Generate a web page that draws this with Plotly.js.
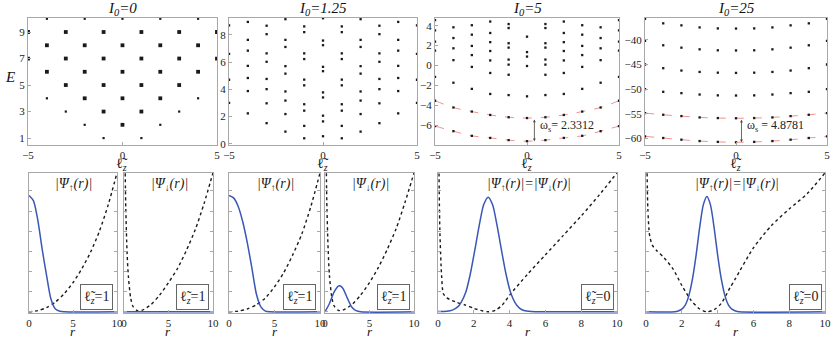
<!DOCTYPE html>
<html>
<head>
<meta charset="utf-8">
<script src="https://cdn.plot.ly/plotly-3.0.1.min.js"></script>
<style>
  html, body { margin: 0; padding: 0; background: #fff; }
  #chart { width: 831px; height: 339px; }
</style>
</head>
<body>
<div id="chart"></div>
<script>
// ---- top row: energy levels vs angular momentum ----
const lz = [-5, -4, -3, -2, -1, 0, 1, 2, 3, 4, 5];

// I0 = 0: degenerate levels (heavy marks) and single levels (light marks)
const p1BigL = [-5, -5, -4, -4, -3, -3, -3, -2, -2, -2, -1, -1, -1, -1, 0, 0, 0, 0, 1, 1, 1, 1, 2, 2, 2, 3, 3, 3, 4, 4, 5, 5];
const p1BigE = [9, 7, 8, 6, 9, 7, 5, 8, 6, 4, 9, 7, 5, 3, 8, 6, 4, 2, 9, 7, 5, 3, 8, 6, 4, 9, 7, 5, 8, 6, 9, 7];
const p1SmallL = [-4, -4, -3, -2, -2, -1, 0, 1, 2, 2, 3, 4, 4];
const p1SmallE = [10, 4, 3, 10, 2, 1, 10, 1, 10, 2, 3, 10, 4];

// I0 = 1.25: one list of levels per lz column
const p2Levels = [
  [8.7, 6.6, 4.7, 3.0],
  [8.95, 7.63, 6.84, 5.72, 4.83, 3.87, 2.23],
  [8.67, 8.05, 6.64, 6.02, 4.76, 4.01, 2.97, 1.51],
  [9.15, 7.63, 7.11, 5.70, 5.15, 3.84, 3.17, 2.18, 0.89],
  [8.62, 8.20, 6.64, 6.22, 4.71, 4.29, 2.90, 2.43, 1.31, 0.40],
  [9.22, 7.58, 7.24, 5.65, 5.33, 3.77, 3.40, 2.06, 1.64, 0.55],
  [8.62, 8.20, 6.64, 6.22, 4.71, 4.29, 2.90, 2.43, 1.31, 0.40],
  [9.15, 7.63, 7.11, 5.70, 5.15, 3.84, 3.17, 2.18, 0.89],
  [8.67, 8.05, 6.64, 6.02, 4.76, 4.01, 2.97, 1.51],
  [8.95, 7.63, 6.84, 5.72, 4.83, 3.87, 2.23],
  [8.7, 6.6, 4.7, 3.0],
];

// I0 = 5: upper levels, plus the two lowest bands (joined by dashed lines)
const p3Levels = [
  [4.56, 3.54, 2.4, 1.5, -1.15],
  [3.84, 2.76, 1.73, 0.54, -1.73],
  [4.05, 3.10, 1.97, 1.05, -0.14, -2.35],
  [4.42, 3.27, 2.35, 1.46, 0.51, -0.75, -2.86],
  [4.17, 3.77, 2.24, 1.80, 0.60, 0.09, -0.93, -2.97],
  [2.9, 1.35, 0.9, -0.05, -3.1],
  [4.17, 3.77, 2.24, 1.80, 0.60, 0.09, -0.93, -2.97],
  [4.42, 3.27, 2.35, 1.46, 0.51, -0.75, -2.86],
  [4.05, 3.10, 1.97, 1.05, -0.14, -2.35],
  [3.84, 2.76, 1.73, 0.54, -1.73],
  [4.56, 3.54, 2.4, 1.5, -1.15],
];
const p3Band1 = [-3.54, -4.22, -4.63, -4.97, -5.2, -5.28, -5.2, -4.97, -4.63, -4.22, -3.54];
const p3Band2 = [-6.09, -6.6, -7.07, -7.28, -7.5, -7.61, -7.5, -7.28, -7.07, -6.6, -6.09];

// I0 = 25
const p4Levels = [
  [-35.75, -40.2, -45.0, -50.0],
  [-36.64, -41.10, -45.75, -50.55],
  [-37.05, -41.58, -46.23, -50.82],
  [-37.47, -41.92, -46.51, -51.10],
  [-37.67, -42.12, -46.66, -51.27],
  [-37.70, -42.15, -46.71, -51.30],
  [-37.67, -42.12, -46.66, -51.27],
  [-37.47, -41.92, -46.51, -51.10],
  [-37.05, -41.58, -46.23, -50.82],
  [-36.64, -41.10, -45.75, -50.55],
  [-35.75, -40.2, -45.0, -50.0],
];
const p4Band1 = [-54.86, -55.21, -55.48, -55.75, -55.88, -55.92, -55.88, -55.75, -55.48, -55.21, -54.86];
const p4Band2 = [-59.59, -59.93, -60.27, -60.55, -60.72, -60.8, -60.72, -60.55, -60.27, -59.93, -59.59];

const topTitles = ["I<sub>0</sub>=0", "I<sub>0</sub>=1.25", "I<sub>0</sub>=5", "I<sub>0</sub>=25"];
const gapLabels = ["ω<sub>s</sub>= 2.3312", "ω<sub>s</sub> = 4.8781"];

// ---- bottom row: |Ψ(r)| (blue) and effective potential (dotted) ----
const aPsiR = [0, 0.5, 1, 1.5, 2, 2.5, 3, 3.5, 4, 10];
const aPsi  = [0.837, 0.80, 0.66, 0.45, 0.26, 0.09, 0.02, 0.004, 0, 0];
const aPotR = [0, 1, 2, 3, 4, 5, 6, 7, 8, 9, 10];
const aPot  = [0, 0.008, 0.03, 0.07, 0.13, 0.21, 0.31, 0.43, 0.58, 0.77, 1.0];

const bPsiR = [0, 10];
const bPsi  = [0, 0];
const bPotR = [0.08, 0.2, 0.35, 0.5, 0.75, 1, 1.5, 2, 3, 4, 5, 6, 7, 8, 9, 10];
const bPot  = [1.3, 0.75, 0.42, 0.25, 0.10, 0.04, 0.008, 0.01, 0.05, 0.12, 0.21, 0.31, 0.44, 0.59, 0.78, 1.0];

const cPsiR = [0, 0.5, 1, 1.5, 2, 2.5, 3, 3.5, 4, 4.5, 10];
const cPsi  = [0.837, 0.82, 0.76, 0.65, 0.50, 0.32, 0.13, 0.035, 0.005, 0, 0];
const cPotR = [0, 1, 2, 3, 4, 5, 6, 7, 8, 9, 10];
const cPot  = [0, 0.005, 0.02, 0.05, 0.10, 0.18, 0.28, 0.41, 0.56, 0.76, 1.0];

const dPsiR = [0, 0.5, 1, 1.5, 1.65, 2, 2.5, 3, 3.5, 4, 10];
const dPsi  = [0, 0.06, 0.14, 0.185, 0.187, 0.17, 0.10, 0.035, 0.008, 0, 0];
const dPotR = [0.1, 0.2, 0.35, 0.5, 0.75, 1, 1.5, 2, 3, 4, 5, 6, 7, 8, 9, 10];
const dPot  = [1.3, 0.8, 0.45, 0.26, 0.11, 0.045, 0.01, 0.012, 0.05, 0.12, 0.21, 0.32, 0.45, 0.6, 0.79, 1.0];

const ePsiR = [0, 0.5, 0.8, 1.1, 1.3, 1.55, 1.8, 2.05, 2.3, 2.55, 2.8, 3.05, 3.3, 3.55, 3.8, 4.05, 4.3, 4.55, 4.8, 5.2, 6, 10];
const ePsi  = [0.002, 0.004, 0.012, 0.035, 0.07, 0.14, 0.27, 0.44, 0.62, 0.77, 0.825, 0.77, 0.62, 0.44, 0.27, 0.14, 0.066, 0.026, 0.009, 0.002, 0, 0];
const ePotR = [0.03, 0.1, 0.2, 0.3, 0.5, 1, 1.5, 2, 2.5, 2.8, 3.2, 3.6, 4, 5, 6, 7, 8, 9, 10];
const ePot  = [1.3, 0.6, 0.26, 0.13, 0.10, 0.07, 0.05, 0.025, 0.006, 0, 0.01, 0.05, 0.12, 0.27, 0.41, 0.55, 0.69, 0.84, 1.0];

const fPsiR = [0, 1.6, 1.8, 2.0, 2.2, 2.4, 2.6, 2.8, 3.0, 3.2, 3.4, 3.6, 3.8, 4.0, 4.2, 4.4, 4.6, 4.8, 5.0, 5.2, 10];
const fPsi  = [0, 0, 0.006, 0.019, 0.05, 0.12, 0.24, 0.41, 0.61, 0.77, 0.83, 0.77, 0.61, 0.41, 0.24, 0.12, 0.05, 0.019, 0.006, 0, 0];
const fPotR = [0.03, 0.1, 0.2, 0.35, 0.6, 1, 1.5, 2, 2.5, 3, 3.4, 3.8, 4.2, 4.7, 5, 6, 7, 8, 9, 10];
const fPot  = [1.3, 0.75, 0.55, 0.48, 0.44, 0.39, 0.31, 0.19, 0.085, 0.02, 0, 0.015, 0.06, 0.175, 0.24, 0.46, 0.62, 0.74, 0.85, 1.0];

const psiLabels = [
  "|Ψ<sub>↑</sub>(r)|", "|Ψ<sub>↓</sub>(r)|", "|Ψ<sub>↑</sub>(r)|", "|Ψ<sub>↓</sub>(r)|",
  "|Ψ<sub>↑</sub>(r)|=|Ψ<sub>↓</sub>(r)|", "|Ψ<sub>↑</sub>(r)|=|Ψ<sub>↓</sub>(r)|",
];
const lzBoxLabels = ["1", "1", "1", "1", "0", "0"];

// ---- styling ----
const BLUE = "#3a57b5";
const DOT_BLACK = "#1a1a1a";
const BAND_RED = "rgba(236,110,110,0.75)";
const AXIS_GREY = "#a8a8a8";
const SERIF = "Liberation Serif, Times New Roman, serif";
const LZ = "<span style=\"font-family:DejaVu Serif\">ℓ\u0303</span><sub><i>z</i></sub>";

const TOP_Y = [0.572, 0.947];
const BOT_Y = [0.077, 0.490];
const topX = [[0.0337, 0.2611], [0.2756, 0.5018], [0.5235, 0.7449], [0.7762, 0.9952]];
const botX = [[0.0349, 0.1408], [0.1492, 0.2563], [0.2756, 0.3851], [0.3911, 0.4982], [0.5271, 0.7425], [0.7774, 0.9928]];
const topYRange = [[0.47, 10.06], [-0.1, 9.24], [-8.0, 4.78], [-61.37, -35.55]];
const topYTicks = [[1, 3, 5, 7, 9], [0, 2, 4, 6, 8], [-6, -4, -2, 0, 2, 4], [-60, -55, -50, -45, -40]];

function frame(domain, range, anchor, extra) {
  return {
    domain, range, anchor,
    showline: true, mirror: true, linecolor: AXIS_GREY, linewidth: 1,
    ticks: "inside", ticklen: 3, tickcolor: AXIS_GREY,
    showgrid: false, zeroline: false, fixedrange: true,
    ticklabeloverflow: "allow",
    tickfont: { family: SERIF, size: 11, color: "#222" },
    ...extra,
  };
}

function flatten(levels) {
  const x = [], y = [];
  levels.forEach((col, i) => col.forEach((e) => { x.push(lz[i]); y.push(e); }));
  return { x, y };
}

function dots(x, y, n, size) {
  return {
    x, y, xaxis: "x" + n, yaxis: "y" + n, type: "scatter", mode: "markers",
    marker: { color: DOT_BLACK, size, symbol: "square", line: { width: 0 } },
    hoverinfo: "skip",
  };
}

function band(y, n) {
  return {
    x: lz, y, xaxis: "x" + n, yaxis: "y" + n, type: "scatter", mode: "lines",
    line: { color: BAND_RED, width: 1, dash: "dash", shape: "spline", smoothing: 1 },
    hoverinfo: "skip",
  };
}

function curve(x, y, n, dotted) {
  return {
    x, y, xaxis: "x" + n, yaxis: "y" + n, type: "scatter", mode: "lines",
    line: dotted
      ? { color: DOT_BLACK, width: 1.4, dash: "dot", shape: "spline", smoothing: 0.7 }
      : { color: BLUE, width: 1.5, shape: "spline", smoothing: 0.7 },
    hoverinfo: "skip",
  };
}

function note(x, y, text, size, extra) {
  return {
    xref: "paper", yref: "paper", x, y, text, showarrow: false,
    xanchor: "center", yanchor: "middle",
    font: { family: SERIF, size, color: "#111" },
    ...extra,
  };
}

const p2 = flatten(p2Levels);
const p3 = flatten(p3Levels);
const p4 = flatten(p4Levels);

const traces = [
  dots(p1BigL, p1BigE, 1, 3.8),
  dots(p1SmallL, p1SmallE, 1, 2.2),
  dots(p2.x, p2.y, 2, 2.3),
  band(p3Band1, 3), band(p3Band2, 3),
  dots(p3.x, p3.y, 3, 2.3), dots(lz, p3Band1, 3, 2.3), dots(lz, p3Band2, 3, 2.3),
  band(p4Band1, 4), band(p4Band2, 4),
  dots(p4.x, p4.y, 4, 2.3), dots(lz, p4Band1, 4, 2.3), dots(lz, p4Band2, 4, 2.3),
  curve(aPotR, aPot, 5, true), curve(aPsiR, aPsi, 5, false),
  curve(bPotR, bPot, 6, true), curve(bPsiR, bPsi, 6, false),
  curve(cPotR, cPot, 7, true), curve(cPsiR, cPsi, 7, false),
  curve(dPotR, dPot, 8, true), curve(dPsiR, dPsi, 8, false),
  curve(ePotR, ePot, 9, true), curve(ePsiR, ePsi, 9, false),
  curve(fPotR, fPot, 10, true), curve(fPsiR, fPsi, 10, false),
];

const layout = {
  width: 831, height: 339,
  paper_bgcolor: "#fff", plot_bgcolor: "#fff",
  margin: { t: 0, r: 0, b: 0, l: 0 },
  showlegend: false,
  font: { family: SERIF, color: "#222" },
  annotations: [],
};

topX.forEach((dom, i) => {
  const n = i + 1;
  layout["xaxis" + n] = frame(dom, [-5, 5], "y" + n, { tickvals: [-5, 0, 5] });
  layout["yaxis" + n] = frame(TOP_Y, topYRange[i], "x" + n, { tickvals: topYTicks[i] });
  const cx = (dom[0] + dom[1]) / 2;
  layout.annotations.push(
    note(cx, 0.972, "<i>" + topTitles[i] + "</i>", 15),
    note(cx, 1 - 153 / 339, LZ, 14, { yanchor: "top" }),
  );
});

botX.forEach((dom, i) => {
  const n = i + 5;
  const wide = i >= 4;
  layout["xaxis" + n] = frame(dom, [0, 10], "y" + n, {
    tickvals: wide ? [0, 2, 4, 6, 8, 10] : [0, 5, 10],
  });
  layout["yaxis" + n] = frame(BOT_Y, [-0.008, 1], "x" + n, {
    showticklabels: false, tick0: 0, dtick: 0.145, mirror: "ticks",
  });
  const cx = (dom[0] + dom[1]) / 2;
  layout.annotations.push(
    note(cx, -0.006, "<i>r</i>", 13, { yanchor: "bottom" }),
    { xref: "x" + n, yref: "y" + n, x: 5.1, y: 0.915, text: "<i>" + psiLabels[i] + "</i>",
      xanchor: "center", showarrow: false, font: { family: SERIF, size: 14, color: "#222" } },
    { xref: "x" + n, yref: "y" + n, x: wide ? 8.9 : 7.7, y: 0.11, xanchor: "center",
      text: LZ + "=" + lzBoxLabels[i], showarrow: false,
      bordercolor: "#666", borderwidth: 1, borderpad: 3, bgcolor: "#fff",
      font: { family: SERIF, size: 14, color: "#222" } },
  );
});

layout.annotations.push(
  note(0.012, 0.772, "<i>E</i>", 15),
  // level-spacing arrows between the two lowest bands
  { xref: "x3", yref: "y3", axref: "x3", ayref: "y3", x: 0.4, y: p3Band2[5], ax: 0.4, ay: p3Band1[5],
    text: "", showarrow: true, arrowhead: 2, startarrowhead: 2, arrowside: "end+start",
    arrowsize: 0.7, arrowwidth: 0.8, arrowcolor: "#444", standoff: 0, startstandoff: 0 },
  { xref: "x3", yref: "y3", x: 0.62, y: -6.1, xanchor: "left", text: gapLabels[0],
    showarrow: false, font: { family: SERIF, size: 12, color: "#222" } },
  { xref: "x4", yref: "y4", axref: "x4", ayref: "y4", x: 0.3, y: p4Band2[5], ax: 0.3, ay: p4Band1[5],
    text: "", showarrow: true, arrowhead: 2, startarrowhead: 2, arrowside: "end+start",
    arrowsize: 0.7, arrowwidth: 0.8, arrowcolor: "#444", standoff: 0, startstandoff: 0 },
  { xref: "x4", yref: "y4", x: 0.5, y: -57.4, xanchor: "left", text: gapLabels[1],
    showarrow: false, font: { family: SERIF, size: 12, color: "#222" } },
);

Plotly.newPlot("chart", traces, layout, { displayModeBar: false, staticPlot: true });
</script>
</body>
</html>
